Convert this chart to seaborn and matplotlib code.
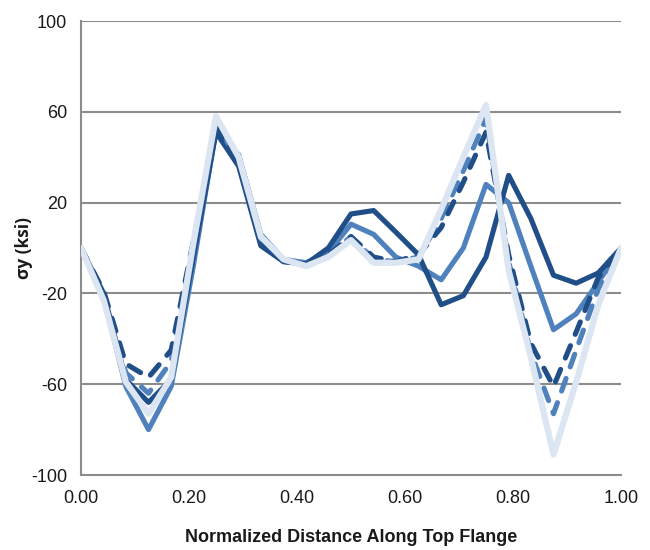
import numpy as np
import pandas as pd
import matplotlib
matplotlib.use("Agg")
import matplotlib.pyplot as plt
import seaborn as sns

# Normalized position of each node along the top flange
position = [0.000, 0.042, 0.083, 0.125, 0.167, 0.208, 0.250, 0.292, 0.333,
            0.375, 0.417, 0.458, 0.500, 0.542, 0.583, 0.625, 0.667, 0.708,
            0.750, 0.792, 0.833, 0.875, 0.917, 0.958, 1.000]

# Transverse stress sigma_y (ksi) for each case
case_dark_solid = [0, -20, -58, -68, -58, -4, 51, 36, 1, -6, -7, 0, 15, 16.5,
                   7, -3, -25, -21, -4, 32, 13, -12, -15.5, -11, 0]
case_dark_dashed = [0, -19, -51, -57, -45, 3, 53, 38, 3, -6, -7, -3, 5, -4,
                    -6, -3, 9, 29, 51, -3, -42, -61, -37, -13, 0]
case_mid_solid = [0, -22, -61, -80, -61, -8, 52, 41, 6, -5, -6.5, -2, 10.5, 6,
                  -4, -8, -14, 0, 28, 20, -8, -36, -29, -15, 0]
case_mid_dashed = [0, -21, -55, -64, -50, 2, 54, 39, 4, -5, -7.5, -3.5, 5, -5,
                   -6, -4, 13, 34, 57, -6, -46, -73, -45, -18, 0]
case_light_solid = [0, -23, -59, -73, -57, 2, 58, 40, 5, -5, -8, -4, 3.5, -6.5,
                    -6.5, -5, 17, 40, 63, -10, -48, -91, -59, -25, 0]

x_ticks = [0.0, 0.2, 0.4, 0.6, 0.8, 1.0]
y_ticks = [-100, -60, -20, 20, 60, 100]

DARK = "#1F4E89"
MID = "#4F81BD"
LIGHT = "#DCE6F2"
GRID = "#8C8C8C"
TEXT = "#1a1a1a"

sns.set_style("white")
plt.rcParams["font.family"] = ["Liberation Sans", "DejaVu Sans"]

fig = plt.figure(figsize=(6.5, 5.5), dpi=100)
ax = fig.add_axes([81 / 650, 1 - 475 / 550, 540 / 650, 454 / 550])

dash = (0, (2.6, 2.4))
series = [
    (case_mid_solid, MID, "-", 3.7),
    (case_dark_solid, DARK, "-", 3.7),
    (case_mid_dashed, MID, dash, 3.7),
    (case_dark_dashed, DARK, dash, 3.7),
    (case_light_solid, LIGHT, "-", 4.5),
]
for values, color, ls, lw in series:
    df = pd.DataFrame({"x": position, "y": values})
    sns.lineplot(data=df, x="x", y="y", ax=ax, color=color, linewidth=lw,
                 linestyle=ls, errorbar=None, sort=False,
                 solid_joinstyle="round", solid_capstyle="round",
                 dash_capstyle="round", dash_joinstyle="round", zorder=3)

ax.set_xlim(0, 1)
ax.set_ylim(-100, 100)
ax.set_xticks(x_ticks)
ax.set_xticklabels([f"{v:.2f}" for v in x_ticks])
ax.set_yticks(y_ticks)
ax.set_yticklabels([str(v) for v in y_ticks])

for y in y_ticks[1:]:
    ax.axhline(y, color=GRID, linewidth=1.5, zorder=1)

for side in ["top", "right"]:
    ax.spines[side].set_visible(False)
for side in ["left", "bottom"]:
    ax.spines[side].set_color(GRID)
    ax.spines[side].set_linewidth(1.5)

ax.tick_params(axis="both", direction="out", length=6, width=1.5, color=GRID,
               labelsize=13, labelcolor=TEXT, pad=4)
ax.tick_params(axis="x", pad=5)

ax.set_xlabel("Normalized Distance Along Top Flange", fontsize=13,
              fontweight="bold", color=TEXT, labelpad=16)
ax.set_ylabel("σy (ksi)", fontsize=12.5, fontweight="bold", color=TEXT,
              family=["Open Sans", "DejaVu Sans"])
ax.yaxis.set_label_coords(-0.088, 0.5)

fig.savefig("out.png", dpi=100)
